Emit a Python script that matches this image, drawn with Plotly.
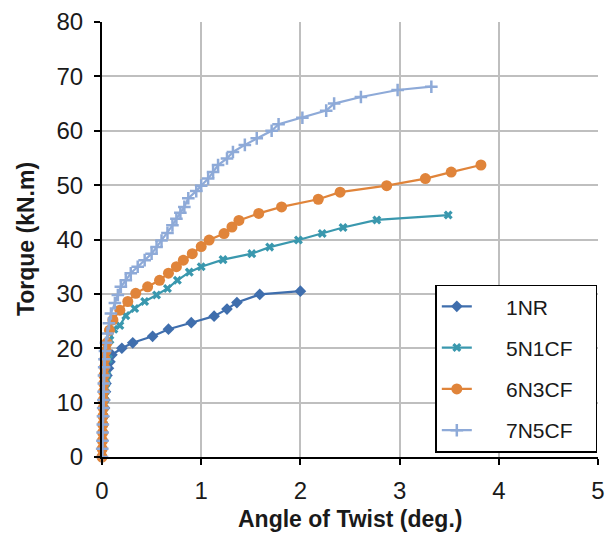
import plotly.graph_objects as go

series_names = ["1NR", "5N1CF", "6N3CF", "7N5CF"]

x_1nr = [0, 0.005, 0.01, 0.012, 0.015, 0.02, 0.025, 0.03, 0.035, 0.04, 0.05, 0.065, 0.08, 0.1,
         0.2, 0.31, 0.51, 0.67, 0.9, 1.13, 1.26, 1.36, 1.59, 2.0]
y_1nr = [0, 1.5, 3, 4.5, 6, 7.5, 9, 10.5, 12, 13.5, 15, 16.3, 17.5, 18.8,
         20, 21, 22.2, 23.5, 24.7, 25.9, 27.2, 28.4, 29.9, 30.5]

x_5n1cf = [0, 0.003, 0.006, 0.01, 0.013, 0.016, 0.02, 0.025, 0.03, 0.04, 0.05, 0.065, 0.08, 0.12,
           0.18, 0.24, 0.33, 0.43, 0.55, 0.66, 0.76, 0.88, 1.0, 1.22, 1.51, 1.69, 1.98, 2.22,
           2.43, 2.77, 3.49]
y_5n1cf = [0, 1.5, 3, 4.5, 6, 7.5, 9, 10.5, 12, 13.5, 15, 18, 21.5, 23.5,
           24.2, 26.0, 27.3, 28.6, 29.8, 31.0, 32.5, 34.0, 35.0, 36.3, 37.4, 38.6, 39.9, 41.1,
           42.2, 43.6, 44.5]

x_6n3cf = [0, 0.002, 0.004, 0.006, 0.008, 0.01, 0.012, 0.014, 0.016, 0.018, 0.02, 0.025, 0.03,
           0.04, 0.05, 0.075, 0.11, 0.18, 0.26, 0.34, 0.46, 0.58, 0.67, 0.75, 0.82, 0.91, 1.0,
           1.08, 1.23, 1.31, 1.38, 1.58, 1.81, 2.18, 2.40, 2.87, 3.26, 3.52, 3.82]
y_6n3cf = [0, 1.5, 3, 4.5, 6, 7.5, 9, 10.5, 12, 13.5, 15, 16.5, 18,
           19.5, 21, 23.3, 25.2, 27.0, 28.6, 30.1, 31.3, 32.5, 33.8, 35.0, 36.2, 37.4, 38.7,
           39.9, 41.1, 42.3, 43.5, 44.8, 46.0, 47.4, 48.7, 49.9, 51.2, 52.4, 53.7]

x_7n5cf = [0, 0.002, 0.004, 0.006, 0.008, 0.01, 0.012, 0.014, 0.016, 0.018, 0.02, 0.022, 0.025,
           0.03, 0.04, 0.055, 0.07, 0.09, 0.13, 0.16, 0.19, 0.24, 0.29, 0.36, 0.43, 0.50, 0.55,
           0.6, 0.66, 0.71, 0.75, 0.79, 0.83, 0.87, 0.95, 1.0, 1.07, 1.12, 1.17, 1.26, 1.32,
           1.44, 1.56, 1.71, 1.78, 2.02, 2.26, 2.34, 2.61, 2.98, 3.32]
y_7n5cf = [0, 1.5, 3, 4.5, 6, 7.5, 9, 10.5, 12, 13.5, 15, 16.5, 18,
           19.5, 21, 22.7, 24.6, 26.4, 28.3, 29.8, 31.3, 32.5, 33.8, 35.0, 36.2, 37.4, 38.6,
           39.8, 41.2, 42.6, 43.8, 44.9, 46.0, 47.6, 48.9, 49.9, 51.2, 52.4, 53.7, 54.9, 56.1,
           57.4, 58.6, 60.0, 61.2, 62.4, 63.7, 65.0, 66.2, 67.5, 68.1]

x_ticks = [0, 1, 2, 3, 4, 5]
y_ticks = [0, 10, 20, 30, 40, 50, 60, 70, 80]
x_title = "Angle of Twist (deg.)"
y_title = "Torque (kN.m)"

colors = ["#3F6EAD", "#3A98AE", "#E0843A", "#8EAAD8"]
symbols = ["diamond", "x", "circle", "cross-thin"]
sizes = [9, 8, 11, 9]

data_x = [x_1nr, x_5n1cf, x_6n3cf, x_7n5cf]
data_y = [y_1nr, y_5n1cf, y_6n3cf, y_7n5cf]

pad_left = "\u00a0" * 5
pad_right = "\u00a0" * 3

fig = go.Figure()
for i, name in enumerate(series_names):
    marker = dict(symbol=symbols[i], size=sizes[i], color=colors[i])
    if symbols[i] == "cross-thin":
        marker["line"] = dict(color=colors[i], width=2.5)
    else:
        marker["line"] = dict(width=0)
    fig.add_trace(go.Scatter(
        x=data_x[i], y=data_y[i], name=pad_left + name + pad_right, mode="lines+markers",
        line=dict(color=colors[i], width=2.2), marker=marker,
        cliponaxis=False, legendgroup=name,
    ))

font_family = "Liberation Sans, Arial, sans-serif"
text_color = "#1a1a1a"
fig.update_layout(
    width=616, height=534,
    margin=dict(l=94, r=26, t=14, b=85, autoexpand=False),
    plot_bgcolor="white", paper_bgcolor="white",
    font=dict(family=font_family, color=text_color),
    showlegend=True,
    legend=dict(
        x=0.672, y=0.01, xanchor="left", yanchor="bottom",
        bordercolor="black", borderwidth=1.5, bgcolor="white",
        font=dict(size=21, family=font_family, color=text_color),
        tracegroupgap=11, traceorder="grouped",
    ),
    xaxis=dict(
        range=[0, 5], tickvals=x_ticks, showgrid=True, gridcolor="#BFBFBF", gridwidth=1.5,
        showline=True, linecolor="black", linewidth=2, ticks="outside", ticklen=6,
        tickcolor="black", tickwidth=2, tickfont=dict(size=24, color=text_color),
        ticklabelstandoff=5, zeroline=False,
    ),
    yaxis=dict(
        range=[0, 80], tickvals=y_ticks, showgrid=True, gridcolor="#BFBFBF", gridwidth=1.5,
        showline=True, linecolor="black", linewidth=2, ticks="outside", ticklen=6,
        tickcolor="black", tickwidth=2, tickfont=dict(size=24, color=text_color),
        ticklabelstandoff=6, zeroline=False,
    ),
    annotations=[
        dict(text="<b>" + x_title + "</b>", xref="paper", yref="paper", x=0.5, y=-0.142,
             xanchor="center", yanchor="middle", showarrow=False,
             font=dict(size=23, color=text_color, family=font_family)),
        dict(text="<b>" + y_title + "</b>", xref="paper", yref="paper", x=-0.154, y=0.5,
             xanchor="center", yanchor="middle", showarrow=False, textangle=-90,
             font=dict(size=23, color=text_color, family=font_family)),
    ],
)

fig.write_html("out.html")
